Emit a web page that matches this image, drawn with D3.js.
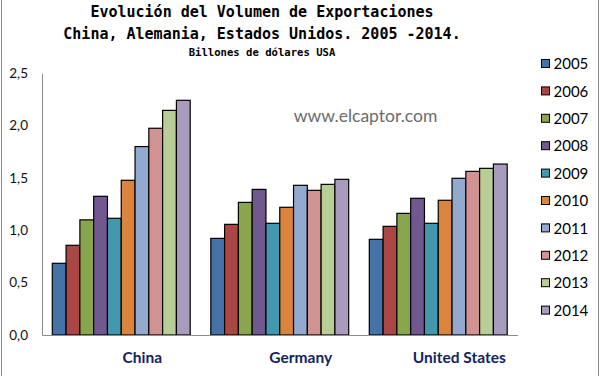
<!DOCTYPE html>
<html>
<head>
<meta charset="utf-8">
<script src="https://cdnjs.cloudflare.com/ajax/libs/d3/7.8.5/d3.min.js"></script>
<style>
  body { margin: 0; background: #fff; }
  svg { display: block; }
</style>
</head>
<body>
<svg id="chart"></svg>
<script>
// data
let countries = ['China', 'Germany', 'United States'];
let years = ['2005', '2006', '2007', '2008', '2009', '2010', '2011', '2012', '2013', '2014'];
let china = [0.685, 0.857, 1.10, 1.325, 1.115, 1.478, 1.80, 1.975, 2.146, 2.242];
let germany = [0.923, 1.057, 1.267, 1.391, 1.067, 1.22, 1.43, 1.382, 1.439, 1.487];
let unitedStates = [0.914, 1.038, 1.162, 1.306, 1.067, 1.287, 1.497, 1.563, 1.592, 1.633];
let yTicks = [0, 0.5, 1, 1.5, 2, 2.5];
let colors = ['#4572A7', '#AA4643', '#89A54E', '#71588F', '#4198AF',
              '#DB843D', '#93A9CF', '#D19392', '#B9CD96', '#A99BBD'];

let seriesByCountry = {'China': china, 'Germany': germany, 'United States': unitedStates};

let W = 601, H = 376;
let svg = d3.select('#chart').attr('width', W).attr('height', H);

// frame lines left and right
svg.append('line').attr('x1', 1.5).attr('x2', 1.5).attr('y1', 0).attr('y2', H)
    .attr('stroke', '#8c8c8c').attr('stroke-width', 1);
svg.append('line').attr('x1', 598.5).attr('x2', 598.5).attr('y1', 0).attr('y2', H)
    .attr('stroke', '#8c8c8c').attr('stroke-width', 1);

// titles
let monoFont = '"DejaVu Sans Mono", monospace';
svg.append('text').attr('x', 262).attr('y', 16.5)
    .attr('text-anchor', 'middle').attr('font-family', monoFont)
    .attr('font-weight', 'bold').attr('font-size', 15).attr('fill', '#000')
    .text('Evolución del Volumen de Exportaciones');
svg.append('text').attr('x', 262).attr('y', 38.5)
    .attr('text-anchor', 'middle').attr('font-family', monoFont)
    .attr('font-weight', 'bold').attr('font-size', 15).attr('fill', '#000')
    .text('China, Alemania, Estados Unidos. 2005 -2014.');
svg.append('text').attr('x', 262).attr('y', 55.5)
    .attr('text-anchor', 'middle').attr('font-family', monoFont)
    .attr('font-weight', 'bold').attr('font-size', 10.6).attr('fill', '#000')
    .text('Billones de dólares USA');

// scales
let x0 = d3.scaleBand().domain(countries).range([42, 517.5])
    .paddingInner(0.13).paddingOuter(0.065);
let x1 = d3.scaleBand().domain(years).range([0, x0.bandwidth()]);
let y = d3.scaleLinear().domain([0, 2.5]).range([335, 73.3]);

// y axis
let yAxis = d3.axisLeft(y).tickValues(yTicks).tickSize(0).tickPadding(14)
    .tickFormat(d => d3.format('.1f')(d).replace('.', ','));
let yg = svg.append('g').attr('transform', 'translate(42,0)').call(yAxis);
yg.select('.domain').attr('stroke', '#8c8c8c');
yg.selectAll('text').attr('font-family', 'Lato, "Open Sans", sans-serif')
    .attr('font-size', 13.5).attr('fill', '#111');

// bars
let groups = svg.append('g').selectAll('g')
    .data(countries).enter().append('g')
    .attr('transform', d => 'translate(' + x0(d) + ',0)');

groups.selectAll('rect')
    .data(c => seriesByCountry[c].map((v, i) => ({year: years[i], value: v})))
    .enter().append('rect')
    .attr('x', d => x1(d.year))
    .attr('y', d => y(d.value))
    .attr('width', x1.bandwidth())
    .attr('height', d => y(0) - y(d.value))
    .attr('fill', (d, i) => colors[i])
    .attr('stroke', '#000').attr('stroke-width', 1.2);

// x axis
let xAxis = d3.axisBottom(x0).tickSize(0).tickPadding(17);
let xg = svg.append('g').attr('transform', 'translate(0,335)').call(xAxis);
xg.select('.domain').attr('stroke', '#8c8c8c').attr('stroke-width', 1.2);
xg.selectAll('text').attr('dx', 21)
    .attr('font-family', 'Lato, "Open Sans", sans-serif')
    .attr('font-weight', 'bold').attr('font-size', 15.5).attr('fill', '#14235e');

// watermark
svg.append('text').attr('x', 365.5).attr('y', 122)
    .attr('text-anchor', 'middle').attr('font-family', 'Lato, "Open Sans", sans-serif')
    .attr('font-size', 17.5).attr('fill', '#6b6b6b')
    .text('www.elcaptor.com');

// legend
let legend = svg.append('g').selectAll('g')
    .data(years).enter().append('g')
    .attr('transform', (d, i) => 'translate(541,' + (64 + i * 27.4) + ')');
legend.append('rect').attr('x', 0.5).attr('y', -4.5).attr('width', 8).attr('height', 8)
    .attr('fill', (d, i) => colors[i]).attr('stroke', '#000').attr('stroke-width', 1);
legend.append('text').attr('x', 12.5).attr('y', 0).attr('dy', '0.35em')
    .attr('font-family', 'Lato, "Open Sans", sans-serif')
    .attr('font-size', 15).attr('fill', '#000')
    .text(d => d);
</script>
</body>
</html>
